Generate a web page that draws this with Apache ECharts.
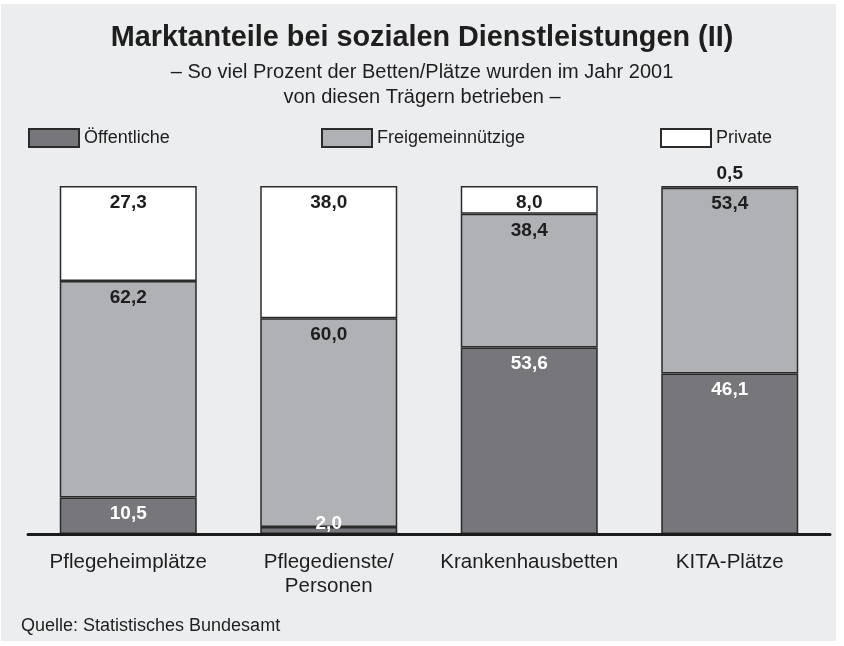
<!DOCTYPE html>
<html>
<head>
<meta charset="utf-8">
<title>Marktanteile bei sozialen Dienstleistungen (II)</title>
<script src="https://cdn.jsdelivr.net/npm/echarts@6/dist/echarts.min.js"></script>
<style>
  html, body { margin: 0; padding: 0; background: #fff; }
  #bg { position: absolute; left: 1px; top: 4px; width: 835px; height: 637px; background: #ecedef; }
  #main { position: absolute; left: 0; top: 0; width: 844px; height: 646px; }
</style>
</head>
<body>
<div id="bg"></div>
<div id="main"></div>
<script>
// Daten (Prozent der Betten/Plätze, 2001)
var categories = ['Pflegeheimplätze', 'Pflegedienste/\nPersonen', 'Krankenhausbetten', 'KITA-Plätze'];
var oeffentliche = [10.5, 2.0, 53.6, 46.1];
var freigemeinnuetzige = [62.2, 60.0, 38.4, 53.4];
var private_ = [27.3, 38.0, 8.0, 0.5];

var FONT = '"Liberation Sans", Arial, Helvetica, sans-serif';
var DARK = '#1e1e1e';

function fmt(p) {
    return p.value.toFixed(1).replace('.', ',');
}

// kleine Segmente: Beschriftung über dem Balkenteil
function buildData(values, smallLabel) {
    return values.map(function (v) {
        if (v < 3) {
            return { value: v, label: smallLabel };
        }
        return v;
    });
}

function makeSeries(name, values, color, textColor, smallLabel) {
    return {
        name: name,
        type: 'bar',
        stack: 'total',
        barWidth: 137,
        itemStyle: { color: color, borderColor: '#2b2b2b', borderWidth: 1.5 },
        label: {
            show: true,
            position: 'insideTop',
            distance: 7,
            color: textColor,
            fontFamily: FONT,
            fontSize: 19,
            fontWeight: 'bold',
            formatter: fmt
        },
        emphasis: { disabled: true },
        data: buildData(values, smallLabel)
    };
}

var myChart = echarts.init(document.getElementById('main'));

var legendBase = {
    orient: 'horizontal',
    top: 128,
    padding: 0,
    itemWidth: 50,
    itemHeight: 18,
    icon: 'rect',
    selectedMode: false,
    textStyle: { fontFamily: FONT, fontSize: 18, color: DARK }
};

var option = {
    backgroundColor: 'transparent',
    animation: false,
    title: [
        {
            text: 'Marktanteile bei sozialen Dienstleistungen (II)',
            left: 'center',
            top: 24,
            padding: 0,
            textStyle: { fontFamily: FONT, fontSize: 28.8, fontWeight: 'bold', color: DARK }
        },
        {
            text: 'Quelle: Statistisches Bundesamt',
            left: 21,
            top: 617,
            padding: 0,
            textStyle: { fontFamily: FONT, fontSize: 18, fontWeight: 'normal', color: DARK }
        }
    ],
    graphic: [
        {
            type: 'text',
            x: 422,
            y: 60,
            style: {
                text: '– So viel Prozent der Betten/Plätze wurden im Jahr 2001\nvon diesen Trägern betrieben –',
                align: 'center',
                verticalAlign: 'top',
                fontFamily: FONT,
                fontSize: 20,
                lineHeight: 25,
                fill: DARK
            }
        }
    ],
    legend: [
        Object.assign({}, legendBase, { left: 28, data: ['Öffentliche'] }),
        Object.assign({}, legendBase, { left: 321, data: ['Freigemeinnützige'] }),
        Object.assign({}, legendBase, { left: 660, data: ['Private'] })
    ],
    grid: {
        left: 28,
        right: 14,
        top: 186,
        bottom: 112,
        containLabel: false
    },
    xAxis: {
        type: 'category',
        data: categories,
        axisTick: { show: false },
        axisLine: { lineStyle: { color: '#1a1a1a', width: 3 } },
        axisLabel: {
            interval: 0,
            margin: 16,
            fontFamily: FONT,
            fontSize: 20.5,
            lineHeight: 24,
            color: DARK
        },
        z: 5
    },
    yAxis: {
        type: 'value',
        min: 0,
        max: 100,
        show: false
    },
    series: [
        makeSeries('Öffentliche', oeffentliche, '#77767b', '#ffffff',
            { position: 'top', distance: -6, color: '#ffffff' }),
        makeSeries('Freigemeinnützige', freigemeinnuetzige, '#b0b1b5', DARK,
            { position: 'top', distance: 3, color: DARK }),
        makeSeries('Private', private_, '#ffffff', DARK,
            { position: 'top', distance: 3, color: DARK })
    ]
};

myChart.setOption(option);
</script>
</body>
</html>
